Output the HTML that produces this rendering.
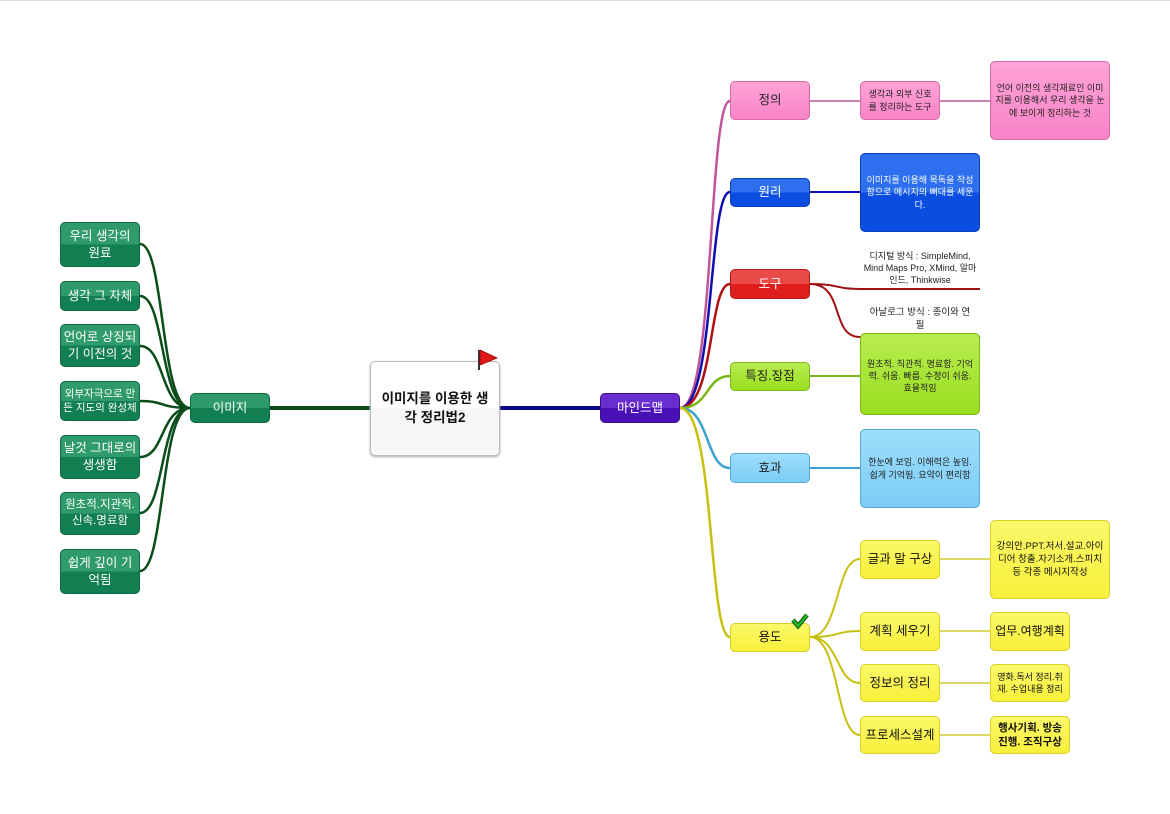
<!DOCTYPE html>
<html><head><meta charset="utf-8"><style>
body{margin:0;background:#fff;}
#c{position:relative;width:1170px;height:814px;overflow:hidden;background:#fff;border-top:1px solid #ddd;box-sizing:border-box;font-family:"Liberation Sans","Noto Sans CJK KR",sans-serif;}
.n{position:absolute;box-sizing:border-box;border-radius:5px;display:flex;align-items:center;justify-content:center;text-align:center;line-height:1.35;}
.g{background:linear-gradient(#2f9a6c 0 50%,#127f52 50%);color:#fff;border:1px solid #0d6b44;font-size:12.5px;}
.pk{background:linear-gradient(#ffa3d6,#f883c8);border:1px solid #d96aa8;color:#222;}
.bl{background:linear-gradient(#2e6ff0 0 50%,#0a4de0 50%);border:1px solid #0a3fb8;color:#fff;}
.rd{background:linear-gradient(#ea4a48 0 50%,#de1d1d 50%);border:1px solid #b51515;color:#fff;}
.gr{background:linear-gradient(#b8ec50,#9ade1e);border:1px solid #7db818;color:#222;}
.lb{background:linear-gradient(#9ddefc,#7cccf5);border:1px solid #58a8d6;color:#222;}
.yl{background:linear-gradient(#fbf86a,#f8f03a);border:1px solid #d8cf2a;color:#111;}
</style></head><body><div id="c">
<svg width="1170" height="814" style="position:absolute;left:0;top:0" fill="none">
<g stroke="#0a4d1a" stroke-width="2.5">
<path d="M190 407 C160 407 165 243 140 243"/>
<path d="M190 407 C160 407 165 295 140 295"/>
<path d="M190 407 C160 407 165 345 140 345"/>
<path d="M190 407 C160 407 165 400 140 400"/>
<path d="M190 407 C160 407 165 456 140 456"/>
<path d="M190 407 C160 407 165 512 140 512"/>
<path d="M190 407 C160 407 165 570 140 570"/>
<path d="M270 407 L370 407" stroke-width="4"/>
</g>
<path d="M500 407 L600 407" stroke="#0a0a80" stroke-width="4"/>
<path d="M680 407 C715 407 708 100 730 100" stroke="#c0569a" stroke-width="2.5"/>
<path d="M680 407 C715 407 708 191 730 191" stroke="#1010b0" stroke-width="2.5"/>
<path d="M680 407 C715 407 708 283 730 283" stroke="#b01010" stroke-width="2.5"/>
<path d="M680 407 C710 407 705 375 730 375" stroke="#78b814" stroke-width="2.5"/>
<path d="M680 407 C710 407 705 467 730 467" stroke="#3ca0d0" stroke-width="2.5"/>
<path d="M680 407 C715 407 708 636 730 636" stroke="#c8c010" stroke-width="2.5"/>
<path d="M810 100 L860 100 M940 100 L990 100" stroke="#c0569a" stroke-width="1.5"/>
<path d="M810 191 L860 191" stroke="#1010b0" stroke-width="2"/>
<path d="M810 283 C840 283 835 288 860 288 L980 288 M810 283 C845 283 830 336 860 336 L980 336" stroke="#a01010" stroke-width="2"/>
<path d="M810 375 L860 375" stroke="#78b814" stroke-width="2"/>
<path d="M810 467 L860 467" stroke="#3ca0d0" stroke-width="2"/>
<g stroke="#c8c010" stroke-width="2">
<path d="M810 636 C840 636 835 558 860 558"/>
<path d="M810 636 C840 636 835 630 860 630"/>
<path d="M810 636 C840 636 835 682 860 682"/>
<path d="M810 636 C840 636 835 734 860 734"/>
<path d="M940 558 L990 558 M940 630 L990 630 M940 682 L990 682 M940 734 L990 734" stroke-width="1.2"/>
</g>
</svg>
<div class="n g" style="left:60px;top:221px;width:80px;height:45px">우리 생각의<br>원료</div>
<div class="n g" style="left:60px;top:280px;width:80px;height:30px">생각 그 자체</div>
<div class="n g" style="left:60px;top:323px;width:80px;height:43px">언어로 상징되<br>기 이전의 것</div>
<div class="n g" style="left:60px;top:380px;width:80px;height:40px;font-size:10.5px">외부자극으로 만<br>든 지도의 완성체</div>
<div class="n g" style="left:60px;top:434px;width:80px;height:44px">날것 그대로의<br>생생함</div>
<div class="n g" style="left:60px;top:491px;width:80px;height:43px;font-size:11.5px">원초적.지관적.<br>신속.명료함</div>
<div class="n g" style="left:60px;top:548px;width:80px;height:45px">쉽게 깊이 기<br>억됨</div>
<div class="n g" style="left:190px;top:392px;width:80px;height:30px">이미지</div>
<div class="n" style="left:370px;top:360px;width:130px;height:95px;background:linear-gradient(#fff 0 50%,#f6f6f6 50%);border:1px solid #bbb;box-shadow:0 1px 2px #aaa;font-weight:bold;font-size:13.5px;color:#111">이미지를 이용한 생<br>각 정리법2</div>
<div class="n" style="left:600px;top:392px;width:80px;height:30px;background:linear-gradient(#6a2ed0 0 50%,#4a10b8 50%);border:1px solid #3a0a90;color:#fff;font-size:12.5px">마인드맵</div>
<div class="n pk" style="left:730px;top:80px;width:80px;height:39px;font-size:12.5px">정의</div>
<div class="n pk" style="left:860px;top:80px;width:80px;height:39px;font-size:9px">생각과 외부 신호<br>를 정리하는 도구</div>
<div class="n pk" style="left:990px;top:60px;width:120px;height:79px;font-size:9px">언어 이전의 생각재료인 이미<br>지를 이용해서 우리 생각을 눈<br>에 보이게 정리하는 것</div>
<div class="n bl" style="left:730px;top:177px;width:80px;height:29px;font-size:12.5px">원리</div>
<div class="n bl" style="left:860px;top:152px;width:120px;height:79px;font-size:9px">이미지를 이용해 목독을 작성<br>함으로 메시지의 뼈대를 세운<br>다.</div>
<div class="n rd" style="left:730px;top:268px;width:80px;height:30px;font-size:12.5px">도구</div>
<div class="n" style="left:860px;top:248px;width:120px;height:38px;font-size:9px;color:#222">디지털 방식 : SimpleMind,<br>Mind Maps Pro, XMind, 알마<br>인드, Thinkwise</div>
<div class="n" style="left:860px;top:305px;width:120px;height:28px;font-size:9.5px;color:#222">아날로그 방식 : 종이와 연<br>필</div>
<div class="n gr" style="left:730px;top:361px;width:80px;height:29px;font-size:12.5px">특징.장점</div>
<div class="n gr" style="left:860px;top:332px;width:120px;height:82px;font-size:9px;align-items:flex-start;padding-top:24px">원초적. 직관적. 명료함. 기억<br>력. 쉬움. 빠름. 수정이 쉬움.<br>효율적임</div>
<div class="n lb" style="left:730px;top:452px;width:80px;height:30px;font-size:12.5px">효과</div>
<div class="n lb" style="left:860px;top:428px;width:120px;height:79px;font-size:9px">한눈에 보임. 이해력은 높임.<br>쉽게 기억됨. 요약이 편리함</div>
<div class="n yl" style="left:730px;top:622px;width:80px;height:29px;font-size:12.5px">용도</div>
<div class="n yl" style="left:860px;top:539px;width:80px;height:39px;font-size:12.5px">글과 말 구상</div>
<div class="n yl" style="left:860px;top:611px;width:80px;height:39px;font-size:12.5px">계획 세우기</div>
<div class="n yl" style="left:860px;top:663px;width:80px;height:38px;font-size:12.5px">정보의 정리</div>
<div class="n yl" style="left:860px;top:715px;width:80px;height:38px;font-size:12.5px">프로세스설계</div>
<div class="n yl" style="left:990px;top:519px;width:120px;height:79px;font-size:9.5px;align-items:flex-start;padding-top:20px">강의안.PPT.저서.설교.아이<br>디어 창출.자기소개.스피치<br>등 각종 메시지작성</div>
<div class="n yl" style="left:990px;top:611px;width:80px;height:39px;font-size:12px">업무.여행계획</div>
<div class="n yl" style="left:990px;top:663px;width:80px;height:38px;font-size:9px">영화.독서 정리.취<br>재. 수업내용 정리</div>
<div class="n yl" style="left:990px;top:715px;width:80px;height:38px;font-size:10.5px;font-weight:bold">행사기획. 방송<br>진행. 조직구상</div>
<svg width="1170" height="814" style="position:absolute;left:0;top:0" fill="none">
<line x1="479" y1="349" x2="479" y2="369" stroke="#333" stroke-width="2"/>
<path d="M480 349 L497 357 L480 364 Z" fill="#e01818" stroke="#900" stroke-width="0.8"/>
<path d="M793 619 L798 625 L807 614" stroke="#0c4a0c" stroke-width="4.5"/>
<path d="M793 619 L798 625 L807 614" stroke="#22bb22" stroke-width="2.5"/>
</svg>
</div></body></html>
